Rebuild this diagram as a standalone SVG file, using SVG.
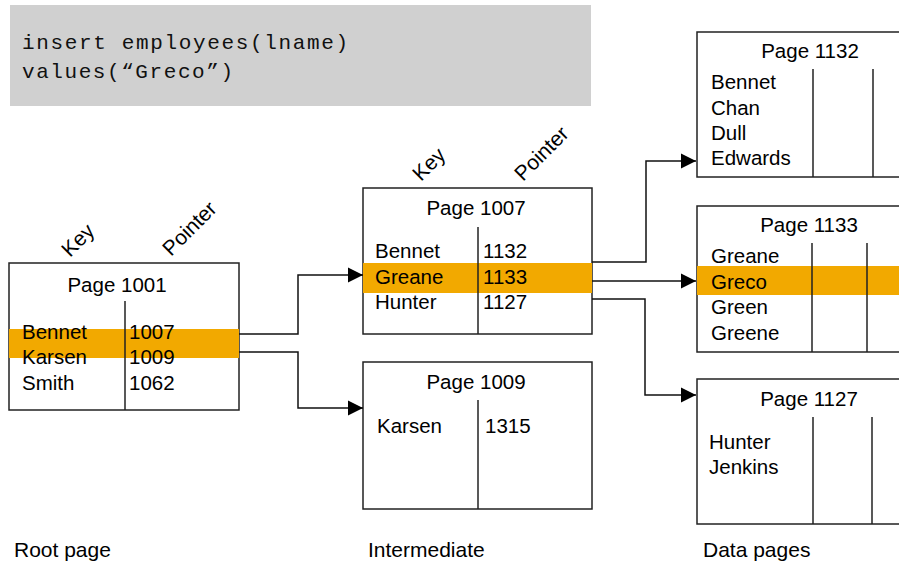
<svg xmlns="http://www.w3.org/2000/svg" width="899" height="564" viewBox="0 0 899 564">
<defs>
<style>
.box{fill:#fff;stroke:#222;stroke-width:1.5}
.div{stroke:#222;stroke-width:1.5}
.hl{fill:#F2A900}
.t{font-family:"Liberation Sans",Arial,sans-serif;font-size:20.5px;fill:#000}
.lb{font-family:"Liberation Sans",Arial,sans-serif;font-size:21px;fill:#000}
.code{font-family:"Liberation Mono","Courier New",monospace;font-size:21px;fill:#111}
.conn{fill:none;stroke:#111;stroke-width:1.5}
</style>
<marker id="arr" markerUnits="userSpaceOnUse" markerWidth="16" markerHeight="16" refX="15" refY="8" orient="auto">
<path d="M0,0.5 L15,8 L0,15.5 Z" fill="#000"/>
</marker>
</defs>
<rect width="899" height="564" fill="#fff"/>

<g id="sql">
<rect x="10" y="5" width="581" height="101" fill="#D0D0D0"/>
<text class="code" x="22" y="49" textLength="326" lengthAdjust="spacing">insert employees(lname)</text>
<text class="code" x="22" y="78" textLength="211" lengthAdjust="spacing">values(“Greco”)</text>
</g>

<g id="root">
<text class="lb" transform="translate(70,258) rotate(-45)">Key</text>
<text class="lb" transform="translate(171,257) rotate(-45)">Pointer</text>
<rect class="box" x="9" y="263" width="230" height="147"/>
<rect class="hl" x="9" y="329" width="230" height="29"/>
<line class="div" x1="125" y1="301" x2="125" y2="410"/>
<text class="t" x="117" y="292" text-anchor="middle">Page 1001</text>
<text class="t" x="22" y="339">Bennet</text><text class="t" x="129" y="339">1007</text>
<text class="t" x="22" y="364">Karsen</text><text class="t" x="129" y="364">1009</text>
<text class="t" x="22" y="390">Smith</text><text class="t" x="129" y="390">1062</text>
</g>

<g id="p1007">
<text class="lb" transform="translate(421,182) rotate(-45)">Key</text>
<text class="lb" transform="translate(523,182) rotate(-45)">Pointer</text>
<rect class="box" x="363" y="188" width="229" height="146"/>
<rect class="hl" x="363" y="263" width="229" height="30"/>
<line class="div" x1="478" y1="227" x2="478" y2="334"/>
<text class="t" x="476" y="215" text-anchor="middle">Page 1007</text>
<text class="t" x="375" y="258">Bennet</text><text class="t" x="483" y="258">1132</text>
<text class="t" x="375" y="284">Greane</text><text class="t" x="483" y="284">1133</text>
<text class="t" x="375" y="309">Hunter</text><text class="t" x="483" y="309">1127</text>
</g>

<g id="p1009">
<rect class="box" x="363" y="362" width="229" height="147"/>
<line class="div" x1="478" y1="400" x2="478" y2="509"/>
<text class="t" x="476" y="389" text-anchor="middle">Page 1009</text>
<text class="t" x="377" y="433">Karsen</text><text class="t" x="485" y="433">1315</text>
</g>

<g id="p1132">
<rect class="box" x="697" y="32" width="220" height="145"/>
<line class="div" x1="813" y1="69" x2="813" y2="177"/>
<line class="div" x1="873" y1="69" x2="873" y2="177"/>
<text class="t" x="810" y="58" text-anchor="middle">Page 1132</text>
<text class="t" x="711" y="89">Bennet</text>
<text class="t" x="711" y="115">Chan</text>
<text class="t" x="711" y="140">Dull</text>
<text class="t" x="711" y="165">Edwards</text>
</g>

<g id="p1133">
<rect class="box" x="697" y="206" width="220" height="146"/>
<rect class="hl" x="697" y="266" width="220" height="29"/>
<line class="div" x1="812" y1="243" x2="812" y2="352"/>
<line class="div" x1="867" y1="243" x2="867" y2="352"/>
<text class="t" x="809" y="232" text-anchor="middle">Page 1133</text>
<text class="t" x="711" y="263">Greane</text>
<text class="t" x="711" y="289">Greco</text>
<text class="t" x="711" y="314">Green</text>
<text class="t" x="711" y="340">Greene</text>
</g>

<g id="p1127">
<rect class="box" x="697" y="379" width="220" height="145"/>
<line class="div" x1="813" y1="417" x2="813" y2="524"/>
<line class="div" x1="872" y1="417" x2="872" y2="524"/>
<text class="t" x="809" y="406" text-anchor="middle">Page 1127</text>
<text class="t" x="709" y="449">Hunter</text>
<text class="t" x="709" y="474">Jenkins</text>
</g>

<g id="connectors">
<polyline class="conn" points="239,334 298,334 298,275 363,275" marker-end="url(#arr)"/>
<polyline class="conn" points="239,352 298,352 298,408 363,408" marker-end="url(#arr)"/>
<polyline class="conn" points="592,262 646,262 646,161 696,161" marker-end="url(#arr)"/>
<polyline class="conn" points="592,281 696,281" marker-end="url(#arr)"/>
<polyline class="conn" points="592,299 645,299 645,395 696,395" marker-end="url(#arr)"/>
</g>

<g id="labels">
<text class="lb" x="14" y="557">Root page</text>
<text class="lb" x="368" y="557">Intermediate</text>
<text class="lb" x="703" y="557">Data pages</text>
</g>
</svg>
